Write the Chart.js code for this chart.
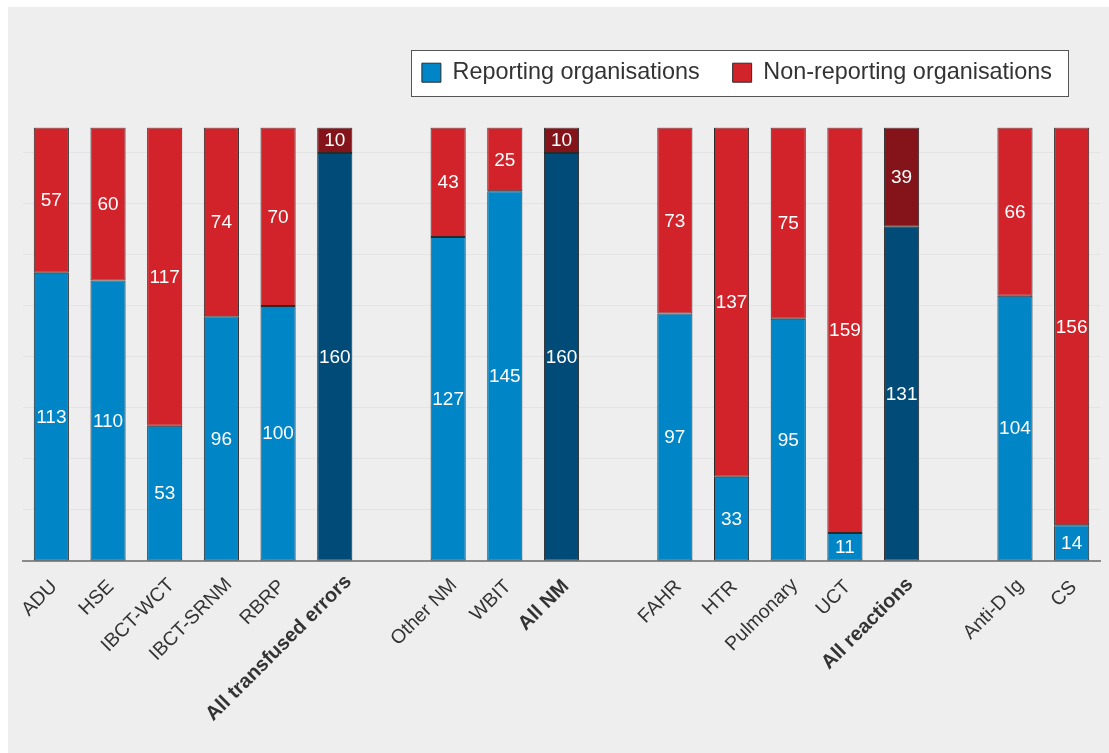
<!DOCTYPE html>
<html>
<head>
<meta charset="utf-8">
<script src="https://cdn.jsdelivr.net/npm/chart.js@4/dist/chart.umd.min.js"></script>
<style>
  html, body { margin: 0; padding: 0; background: #ffffff; }
  #wrap { position: absolute; left: 0; top: 0; width: 1109px; height: 753px; }
</style>
</head>
<body>
<div id="wrap"><canvas id="c" width="1109" height="753"></canvas></div>
<script>
// ---- data ----
const categories = ['ADU', 'HSE', 'IBCT-WCT', 'IBCT-SRNM', 'RBRP', 'All transfused errors', '',
  'Other NM', 'WBIT', 'All NM', '',
  'FAHR', 'HTR', 'Pulmonary', 'UCT', 'All reactions', '',
  'Anti-D Ig', 'CS'];
const reporting = [113, 110, 53, 96, 100, 160, null, 127, 145, 160, null, 97, 33, 95, 11, 131, null, 104, 14];
const nonReporting = [57, 60, 117, 74, 70, 10, null, 43, 25, 10, null, 73, 137, 75, 159, 39, null, 66, 156];
const totalCategories = ['All transfused errors', 'All NM', 'All reactions'];
const seriesNames = ['Reporting organisations', 'Non-reporting organisations'];

// ---- styles ----
const BLUE = '#0085C7', RED = '#D2232A', DBLUE = '#004B78', DRED = '#84141A';
const isTotal = (i) => totalCategories.includes(categories[i]);
const blueColors = categories.map((c, i) => isTotal(i) ? DBLUE : BLUE);
const redColors = categories.map((c, i) => isTotal(i) ? DRED : RED);
const FONT = "'Liberation Sans', Arial, Helvetica, sans-serif";

const panelPlugin = {
  id: 'panel',
  beforeDraw(chart) {
    const ctx = chart.ctx;
    ctx.save();
    ctx.fillStyle = '#ffffff';
    ctx.fillRect(0, 0, chart.width, chart.height);
    ctx.fillStyle = '#EEEEEE';
    ctx.fillRect(8, 7, chart.width - 8, chart.height - 7);
    ctx.restore();
  }
};

const valueLabels = {
  id: 'valueLabels',
  afterDatasetsDraw(chart) {
    const ctx = chart.ctx;
    ctx.save();
    ctx.fillStyle = '#ffffff';
    ctx.font = '19px ' + FONT;
    ctx.textAlign = 'center';
    ctx.textBaseline = 'middle';
    chart.data.datasets.forEach((ds, di) => {
      const meta = chart.getDatasetMeta(di);
      meta.data.forEach((el, i) => {
        const v = ds.data[i];
        if (v === null || v === undefined) return;
        ctx.fillText(String(v), el.x, (el.y + el.base) / 2 + 1);
      });
    });
    ctx.restore();
  }
};

const legendTweak = {
  id: 'legendTweak',
  afterInit(chart) {
    const lg = chart.legend;
    if (!lg || lg._tweaked) return;
    lg._tweaked = true;
    const origFit = lg.fit.bind(lg);
    lg.fit = function () { origFit(); this.height += 33; };
    const origDraw = lg.draw.bind(lg);
    lg.draw = function () {
      const ctx = this.ctx;
      ctx.save();
      ctx.translate(-15, 0);
      const hb = this.legendHitBoxes || [];
      if (hb.length) {
        let l = Infinity, r = -Infinity, t = Infinity, b = -Infinity;
        hb.forEach(h => { l = Math.min(l, h.left); r = Math.max(r, h.left + h.width); t = Math.min(t, h.top); b = Math.max(b, h.top + h.height); });
        ctx.fillStyle = '#ffffff';
        ctx.strokeStyle = '#555555';
        ctx.lineWidth = 1;
        const x0 = Math.round(l - 11) + 0.5, x1 = Math.round(r + 16) + 0.5;
        const cy = (t + b) / 2;
        const y0 = Math.round(cy - 23) + 0.5, y1 = Math.round(cy + 23) + 0.5;
        ctx.fillRect(x0, y0, x1 - x0, y1 - y0);
        ctx.strokeRect(x0, y0, x1 - x0, y1 - y0);
      }
      origDraw();
      ctx.restore();
    };
  }
};

function shiftLabels(scale) {
  if (scale._shiftWrapped) return;
  scale._shiftWrapped = true;
  const orig = scale._computeLabelItems.bind(scale);
  scale._computeLabelItems = function (ca) {
    const items = orig(ca);
    const ctx = this.ctx;
    items.forEach(it => {
      if (!it.label) return;
      ctx.save();
      ctx.font = it.font.string;
      const w = ctx.measureText(String(it.label)).width;
      ctx.restore();
      const t = it.options.translation;
      it.options.translation = [t[0] + 0.07 * w, t[1] - 0.035 * w];
    });
    return items;
  };
}

new Chart(document.getElementById('c'), {
  type: 'bar',
  data: {
    labels: categories,
    datasets: [
      { label: seriesNames[0], data: reporting, backgroundColor: blueColors, borderColor: '#2a2a2a', borderWidth: 1, borderSkipped: false },
      { label: seriesNames[1], data: nonReporting, backgroundColor: redColors, borderColor: '#2a2a2a', borderWidth: 1, borderSkipped: false }
    ]
  },
  options: {
    responsive: false,
    animation: false,
    layout: { padding: { left: 23, right: 9, top: 28, bottom: 0 } },
    datasets: { bar: { categoryPercentage: 1, barPercentage: 0.62 } },
    plugins: {
      legend: {
        position: 'top',
        align: 'end',
        labels: {
          font: { family: FONT, size: 23.4 },
          color: '#333333',
          boxWidth: 19,
          boxHeight: 19,
          padding: 33,
          generateLabels: () => [
            { text: seriesNames[0], fillStyle: BLUE, strokeStyle: '#2a2a2a', lineWidth: 1, fontColor: '#333333', datasetIndex: 0 },
            { text: seriesNames[1], fillStyle: RED, strokeStyle: '#2a2a2a', lineWidth: 1, fontColor: '#333333', datasetIndex: 1 }
          ]
        }
      },
      tooltip: { enabled: false }
    },
    scales: {
      x: {
        stacked: true,
        grid: { display: false, drawTicks: false },
        border: { display: true, color: '#8a8a8a', width: 2 },
        ticks: {
          autoSkip: false,
          minRotation: 45,
          maxRotation: 45,
          padding: 16,
          color: '#333333',
          font: (ctx) => {
            const bold = ctx.tick && totalCategories.includes(ctx.tick.label);
            return { family: FONT, size: bold ? 20 : 19.5, weight: bold ? 'bold' : 'normal' };
          }
        },
        afterFit: (s) => { s.height = 192; },
        afterUpdate: shiftLabels
      },
      y: {
        stacked: true,
        min: 0,
        max: 170,
        ticks: { display: false, stepSize: 20 },
        border: { display: false },
        grid: {
          drawTicks: false,
          color: (ctx) => (ctx.tick && (ctx.tick.value === 0 || ctx.tick.value === 170)) ? 'rgba(0,0,0,0)' : '#E3E3E3',
          lineWidth: 1
        },
        afterFit: (s) => { s.width = 0; }
      }
    }
  },
  plugins: [panelPlugin, valueLabels, legendTweak]
});
</script>
</body>
</html>
